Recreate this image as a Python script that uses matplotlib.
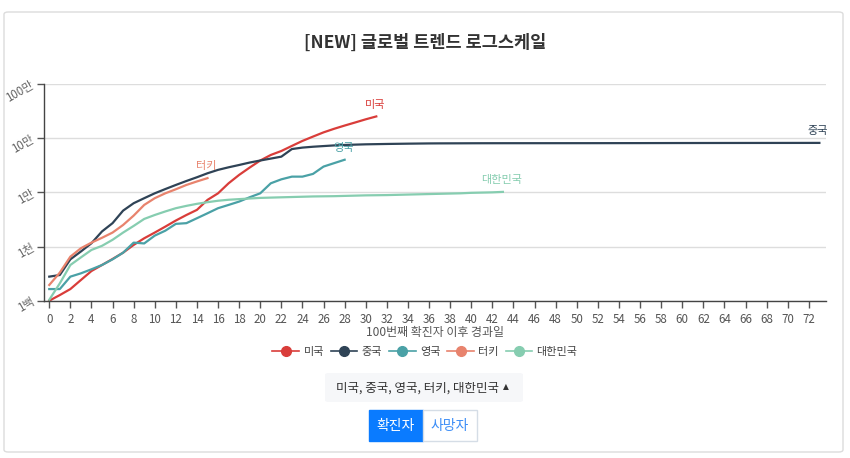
import matplotlib
matplotlib.use("Agg")
import matplotlib.pyplot as plt
from matplotlib.lines import Line2D
from matplotlib.patches import FancyBboxPatch, Rectangle

plt.rcParams['font.family'] = ['Noto Sans CJK KR', 'DejaVu Sans']

# cumulative confirmed cases, day 0 = 100th case
usa = [100, 127, 164, 241, 353, 456, 589, 770, 1070, 1420, 1810, 2330, 3020, 3820,
       4750, 7260, 9600, 14700, 21000, 28700, 38700, 49000, 58000, 72000, 89000,
       107000, 128000, 149000, 171000, 195000, 223000, 252000]
china = [278, 298, 580, 810, 1150, 1900, 2700, 4600, 6300, 7800, 9600, 11500, 13700,
         16200, 19000, 22500, 26000, 29000, 32000, 35500, 38700, 42000, 45600, 63000,
         67000, 69500, 71500, 73500, 75000, 76000, 77000, 77600, 78200, 78700, 79200,
         79600, 80000, 80200, 80300, 80400, 80550, 80650, 80700, 80740, 80760, 80780,
         80800, 80810, 80830, 80850, 80870, 80890, 80920, 80960, 81000, 81050, 81090,
         81170, 81220, 81290, 81340, 81390, 81440, 81470, 81520, 81550, 81590, 81620,
         81640, 81670, 81700, 81730, 81760, 81800]
uk = [164, 164, 278, 320, 380, 456, 580, 770, 1180, 1140, 1590, 1960, 2620, 2700,
      3330, 4110, 5100, 5860, 6760, 8120, 9600, 14700, 17400, 19500, 19500, 21900,
      29900, 34600, 40000]
turkey = [195, 330, 650, 930, 1180, 1450, 1810, 2500, 3720, 5860, 7800, 9600, 11400,
          13700, 15900, 18300]
korea = [104, 209, 456, 630, 865, 1030, 1330, 1810, 2400, 3230, 3820, 4440, 5100,
         5630, 6140, 6580, 7000, 7300, 7500, 7700, 7900, 8000, 8100, 8200, 8300, 8400,
         8450, 8500, 8600, 8700, 8800, 8850, 8900, 9000, 9100, 9200, 9300, 9400, 9500,
         9600, 9800, 9900, 10000, 10200]

names = ['미국', '중국', '영국', '터키', '대한민국']
series = [usa, china, uk, turkey, korea]
colors = ['#d93d3a', '#2f4356', '#4aa1a6', '#e8836d', '#86cdb0']

y_ticks = [100, 1000, 10000, 100000, 1000000]
y_labels = ['1백', '1천', '1만', '10만', '100만']

W, H = 850, 458
fig = plt.figure(figsize=(W / 100, H / 100), dpi=100)

def fx(px):
    return px / W

def fy(py):
    return 1 - py / H

# card frame
fig.patches.append(FancyBboxPatch((fx(4), fy(452)), fx(839), 440 / H,
                                  boxstyle="round,pad=0,rounding_size=0.005",
                                  transform=fig.transFigure, facecolor='white',
                                  edgecolor='#dcdcdc', linewidth=1, zorder=-5))

fig.text(0.5, fy(42.5), '[NEW] 글로벌 트렌드 로그스케일', ha='center', va='center',
         fontsize=12.6, fontweight='bold', color='#333333')

ax = fig.add_axes([fx(44.3), fy(300.7), fx(825.7 - 44.3), (300.7 - 84) / H])
ax.set_facecolor('none')
ax.set_zorder(2)

for name, vals, c in zip(names, series, colors):
    days = list(range(len(vals)))
    ax.plot(days, vals, color=c, linewidth=1.6, solid_joinstyle='round')
    ax.annotate(name, (days[-1], vals[-1]), xytext=(-1, 8.5), textcoords='offset points',
                ha='center', va='center', fontsize=8, color=c)

ax.set_yscale('log')
ax.set_ylim(100, 1000000)
ax.set_xlim(-0.47, 73.6)
ax.set_yticks(y_ticks)
ax.set_yticklabels(y_labels, rotation=30, ha='right', va='center', rotation_mode='anchor')
ax.minorticks_off()
ax.set_xticks(range(0, 73, 2))
ax.tick_params(axis='both', labelsize=8.3, colors='#555555', length=5, width=1)
ax.tick_params(axis='y', pad=3, labelcolor='#666666')
ax.grid(axis='y', color='#dddddd', linewidth=1)
ax.set_axisbelow(True)
for s in ['top', 'right']:
    ax.spines[s].set_visible(False)
for s in ['left', 'bottom']:
    ax.spines[s].set_color('#444444')
    ax.spines[s].set_linewidth(1)
ax.set_xlabel('100번째 확진자 이후 경과일', fontsize=8.6, color='#555555', labelpad=0.5)

handles = [Line2D([0], [0], color=c, marker='o', markersize=7, linewidth=1.2) for c in colors]
fig.legend(handles, names, loc='center', bbox_to_anchor=(0.5, fy(352)), ncol=5,
           frameon=False, fontsize=8, handlelength=2.4, columnspacing=0.6,
           handletextpad=0.4, labelcolor='#444444')

# country selector
fig.patches.append(FancyBboxPatch((fx(325), fy(402)), fx(198), 29 / H,
                                  boxstyle="round,pad=0,rounding_size=0.004",
                                  transform=fig.transFigure, facecolor='#f6f7f9',
                                  edgecolor='none', zorder=-4))
fig.text(fx(417), fy(388), '미국, 중국, 영국, 터키, 대한민국', ha='center', va='center',
         fontsize=9, color='#333333')
fig.text(fx(506), fy(387), '▲', ha='center', va='center', fontsize=5.5, color='#333333',
         family='DejaVu Sans')

# buttons
fig.patches.append(Rectangle((fx(369), fy(441)), fx(54), 31 / H, transform=fig.transFigure,
                             facecolor='#0a7bff', edgecolor='#0a7bff', linewidth=1))
fig.patches.append(Rectangle((fx(423), fy(441)), fx(54), 31 / H, transform=fig.transFigure,
                             facecolor='white', edgecolor='#d5dde6', linewidth=1))
fig.text(fx(396), fy(426), '확진자', ha='center', va='center', fontsize=10, color='white')
fig.text(fx(450), fy(426), '사망자', ha='center', va='center', fontsize=10, color='#3d8ef7')

fig.savefig('out.png', dpi=100)
